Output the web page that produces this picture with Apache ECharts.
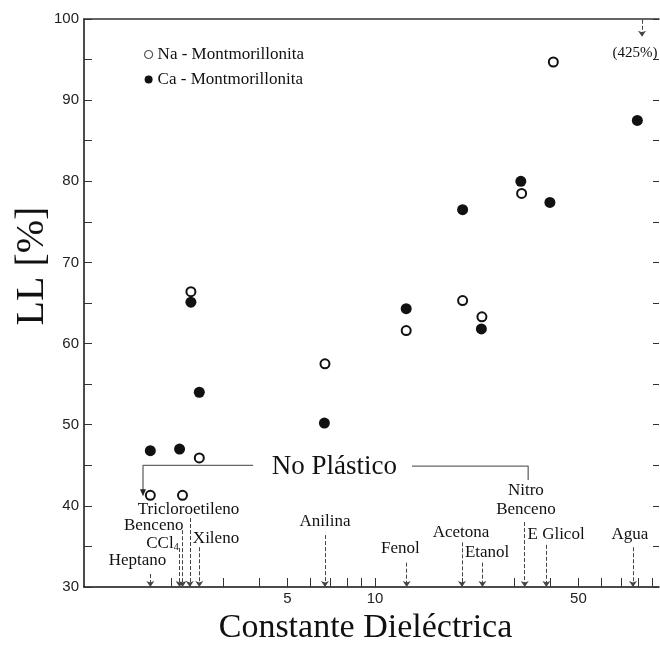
<!DOCTYPE html>
<html><head><meta charset="utf-8">
<script src="https://cdn.jsdelivr.net/npm/echarts@6/dist/echarts.min.js"></script>
<style>html,body{margin:0;padding:0;background:#fff}#c{width:660px;height:645px}</style>
</head><body><div id="c"></div>
<script>
// ---- data ----
const naX = [1.69, 2.18, 2.33, 2.49, 6.73, 12.8, 20.0, 23.3, 31.9, 41.0];
const naY = [41.3, 41.3, 66.4, 45.9, 57.5, 61.6, 65.3, 63.3, 78.5, 94.7];
const caX = [1.69, 2.13, 2.33, 2.49, 6.70, 12.8, 20.0, 23.2, 31.7, 39.9, 79.7];
const caY = [46.8, 47.0, 65.1, 54.0, 50.2, 64.3, 76.5, 61.8, 80.0, 77.4, 87.5];
const solventNames = ['Heptano', 'CCl4', 'Benceno', 'Tricloroetileno', 'Xileno', 'Anilina', 'Fenol', 'Acetona', 'Etanol', 'Nitro\nBenceno', 'E Glicol', 'Agua'];
const solventK = [1.69, 2.13, 2.18, 2.31, 2.49, 6.73, 12.85, 19.9, 23.4, 32.7, 38.8, 77.0];
const xTickValues = [2, 3, 4, 5, 6, 7, 8, 9, 10, 20, 30, 40, 50, 60, 70, 80, 90];
const xLabelValues = [5, 10, 50];
const yMin = 30, yMax = 100, yStep = 5;
const naAguaValue = '(425%)';
const legendNames = ['Na - Montmorillonita', 'Ca - Montmorillonita'];
const bracketText = 'No Plástico';

// ---- annotation layout (positions in data units) ----
const solventLabelPos = [[1.527, 33.3], [1.86, 35.4], [1.736, 37.6], [2.286, 39.6], [2.842, 36.0], [6.73, 38.1], [12.23, 34.7], [19.75, 36.7], [24.27, 34.2], [33.0, 40.7], [41.9, 36.5], [75.2, 36.5]];
const solventLineTop = [31.6, 34.8, 37.0, 38.5, 34.9, 36.4, 33.0, 35.5, 33.0, 38.0, 35.2, 34.9];
const bracketLeft = [[1.595, 41.6], [1.595, 45.0], [3.81, 45.0]];
const bracketRight = [[13.4, 44.9], [33.6, 44.9], [33.6, 43.2]];
const bracketTextPos = [7.25, 44.8];
const offChartLabelPos = [78.3, 95.8];
const offChartArrow = [[82.7, 99.9], [82.7, 97.8]];

const SERIF = 'Liberation Serif';
const SANS = 'Liberation Sans';
const INK = '#111';

const chart = echarts.init(document.getElementById('c'), null, {renderer: 'canvas'});

const solventLabelData = solventNames.map((n, i) => {
  let fmt = n;
  if (n === 'CCl4') fmt = '{a|CCl}{s|4}';
  return {
    name: n, value: solventLabelPos[i],
    label: {formatter: fmt}
  };
});
const solventLines = solventK.map((k, i) => [{coord: [k, solventLineTop[i]]}, {coord: [k, yMin]}]);

const option = {
  animation: false,
  backgroundColor: '#fff',
  grid: {left: 84, right: 1, top: 19, bottom: 58, outerBoundsMode: 'none', containLabel: false},
  legend: {
    orient: 'vertical', left: 139, top: 41, itemGap: 8, itemWidth: 8, itemHeight: 8,
    textStyle: {fontFamily: SERIF, fontSize: 17, color: INK},
    data: [
      {name: legendNames[0], icon: 'circle', itemStyle: {color: '#fff', borderColor: '#555', borderWidth: 1.2}},
      {name: legendNames[1], icon: 'circle', itemStyle: {color: '#111', borderWidth: 0}}
    ]
  },
  xAxis: [{
    type: 'log', logBase: 10, min: 1, max: 94.6, position: 'bottom',
    name: 'Constante Dieléctrica', nameLocation: 'middle', nameGap: 22,
    nameTextStyle: {fontFamily: SERIF, fontSize: 34, color: INK, padding: [0, 12, 0, 0]},
    axisLine: {show: true, lineStyle: {color: INK, width: 1.5}},
    axisTick: {show: true, inside: true, length: 9, customValues: xTickValues, lineStyle: {color: '#333', width: 1}},
    axisLabel: {show: true, customValues: xLabelValues, margin: 4, fontFamily: SANS, fontSize: 15, color: '#222'},
    splitLine: {show: false}, minorTick: {show: false}
  }, {
    type: 'log', logBase: 10, min: 1, max: 94.6, position: 'top',
    axisLine: {show: true, lineStyle: {color: '#333', width: 1.5}},
    axisTick: {show: false}, axisLabel: {show: false}, splitLine: {show: false}
  }],
  yAxis: [{
    type: 'value', min: yMin, max: yMax, interval: yStep, position: 'left',
    name: 'LL [%]', nameLocation: 'middle', nameGap: 32, nameRotate: 90, nameMoveOverlap: false,
    nameTextStyle: {fontFamily: SERIF, fontSize: 40, color: INK, padding: [0, 0, 0, 74]},
    axisLine: {show: true, lineStyle: {color: INK, width: 1.5}},
    axisTick: {show: true, inside: true, length: 8, lineStyle: {color: '#333'}},
    axisLabel: {margin: 5, fontFamily: SANS, fontSize: 15, color: '#222', formatter: v => (v % 10 === 0 ? String(v) : '')},
    splitLine: {show: false}
  }, {
    type: 'value', min: yMin, max: yMax, interval: yStep, position: 'right',
    axisLine: {show: false},
    axisTick: {show: true, inside: true, length: 6, lineStyle: {color: '#333'}},
    axisLabel: {show: false}, splitLine: {show: false}
  }],
  series: [
    {
      name: legendNames[0], type: 'scatter', symbol: 'circle', symbolSize: 9, z: 5,
      itemStyle: {color: '#fff', borderColor: '#111', borderWidth: 2, opacity: 1},
      data: naX.map((x, i) => [x, naY[i]])
    },
    {
      name: legendNames[1], type: 'scatter', symbol: 'circle', symbolSize: 11, z: 4,
      itemStyle: {color: '#111', opacity: 1},
      data: caX.map((x, i) => [x, caY[i]])
    },
    {
      type: 'line', silent: true, z: 2,
      lineStyle: {color: '#666', width: 1.3},
      symbol: 'none',
      data: bracketLeft.map((p, i) => i === 0 ? {value: p, symbol: 'triangle', symbolSize: [6, 7], symbolRotate: 180, itemStyle: {color: '#222'}} : p)
    },
    {
      type: 'line', silent: true, z: 2,
      lineStyle: {color: '#666', width: 1.3},
      symbol: 'none',
      data: bracketRight
    },
    {
      type: 'scatter', silent: true, symbolSize: 0, z: 6,
      itemStyle: {opacity: 1},
      label: {
        show: true, position: 'inside', color: INK, fontFamily: SERIF, fontSize: 17, lineHeight: 19,
        rich: {a: {fontFamily: SERIF, fontSize: 17, color: INK}, s: {fontFamily: SERIF, fontSize: 10, color: INK, verticalAlign: 'bottom', padding: [8, 0, 0, 0]}}
      },
      data: solventLabelData.concat([
        {name: bracketText, value: bracketTextPos, label: {fontSize: 27, formatter: '{b}'}},
        {name: naAguaValue, value: offChartLabelPos, label: {fontSize: 15, formatter: '{b}'}}
      ]),
      markLine: {
        silent: true, symbol: ['none', 'arrow'], symbolSize: 6,
        label: {show: false},
        lineStyle: {type: 'dashed', color: '#444', width: 1},
        data: solventLines.concat([[{coord: offChartArrow[0]}, {coord: offChartArrow[1]}]])
      }
    }
  ]
};
chart.setOption(option);
</script>
</body></html>
